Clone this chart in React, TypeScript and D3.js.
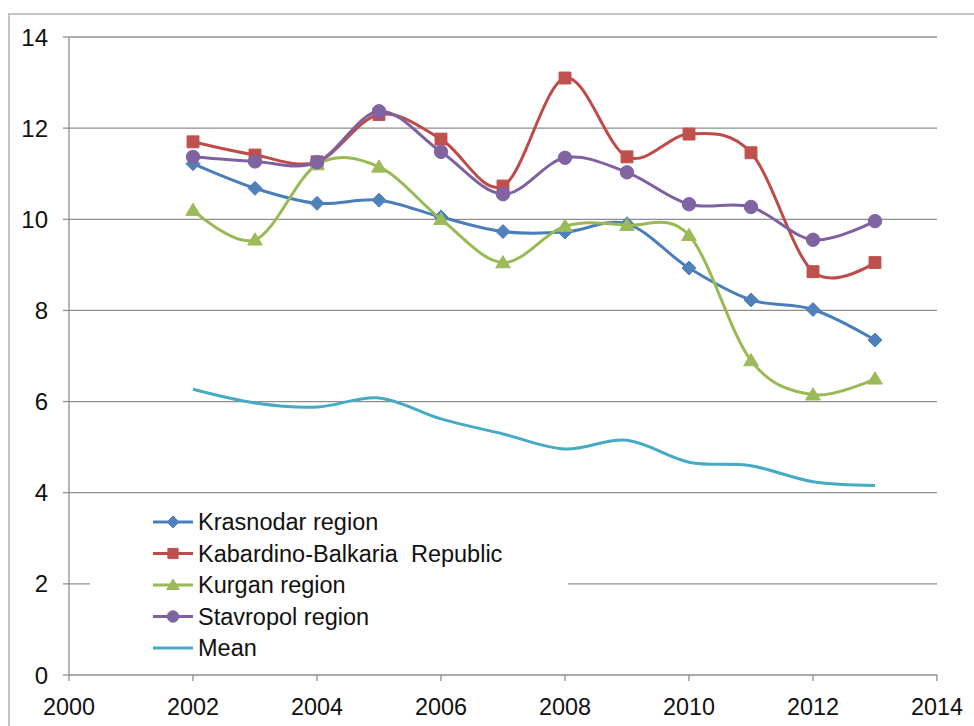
import React from "react";
import * as d3 from "d3";

const years = [2002, 2003, 2004, 2005, 2006, 2007, 2008, 2009, 2010, 2011, 2012, 2013];
const krasnodar = [11.22, 10.68, 10.35, 10.42, 10.05, 9.73, 9.72, 9.9, 8.93, 8.23, 8.02, 7.35];
const kabardino = [11.7, 11.41, 11.26, 12.3, 11.76, 10.73, 13.1, 11.37, 11.87, 11.46, 8.85, 9.05];
const kurgan = [10.2, 9.55, 11.2, 11.15, 10.0, 9.05, 9.85, 9.87, 9.65, 6.9, 6.15, 6.5];
const stavropol = [11.37, 11.27, 11.25, 12.37, 11.48, 10.55, 11.35, 11.03, 10.33, 10.27, 9.55, 9.96];
const mean = [6.27, 5.97, 5.88, 6.08, 5.62, 5.29, 4.96, 5.15, 4.67, 4.59, 4.24, 4.16];

const seriesNames = ["Krasnodar region", "Kabardino-Balkaria  Republic", "Kurgan region", "Stavropol region", "Mean"];
const seriesValues = [krasnodar, kabardino, kurgan, stavropol, mean];
const lineColors = ["#4A7EBB", "#BE4B48", "#98B954", "#7D60A0", "#46AAC5"];
const markerColors = ["#4F81BD", "#C0504D", "#9BBB59", "#8064A2", "#4BACC6"];
const markerTypes = ["diamond", "square", "triangle", "circle", "none"];

const xTicks = [2000, 2002, 2004, 2006, 2008, 2010, 2012, 2014];
const yTicks = [0, 2, 4, 6, 8, 10, 12, 14];

const W = 974;
const H = 726;
const FONT = "'Liberation Sans', Arial, sans-serif";

function markerPath(type: string, s: number): string {
  if (type === "diamond") return `M0,${-s}L${s},0L0,${s}L${-s},0Z`;
  if (type === "square") return `M${-s * 0.85},${-s * 0.85}H${s * 0.85}V${s * 0.85}H${-s * 0.85}Z`;
  if (type === "triangle") return `M0,${-s}L${s * 1.05},${s * 0.75}L${-s * 1.05},${s * 0.75}Z`;
  if (type === "circle") return d3.symbol().type(d3.symbolCircle).size(Math.PI * s * s * 0.92)() || "";
  return "";
}

function Marker({ type, x, y, color, s }: { type: string; x: number; y: number; color: string; s: number }) {
  if (type === "none") return null;
  return <path d={markerPath(type, s)} transform={`translate(${x},${y})`} fill={color} stroke={color} strokeWidth={1} />;
}

export default function App() {
  const x = d3.scaleLinear().domain([2000, 2014]).range([69, 937]);
  const y = d3.scaleLinear().domain([0, 14]).range([675, 37]);

  const line = d3
    .line<number>()
    .x((_, i) => x(years[i]))
    .y((d) => y(d))
    .curve(d3.curveCatmullRom.alpha(0));

  const legendX = 153;
  const legendY0 = 522;
  const legendStep = 31.5;

  return (
    <svg width={W} height={H} style={{ position: "absolute", left: 0, top: 0, background: "#fff" }}>
      <rect x={0} y={0} width={W} height={H} fill="#fff" />
      {/* outer frame */}
      <rect x={9} y={14} width={W + 20} height={H + 20} fill="none" stroke="#c4c4c4" strokeWidth={2} />

      {/* gridlines */}
      {yTicks.filter((t) => t > 0).map((t) => (
        <line key={t} x1={x(2000)} x2={x(2014)} y1={y(t)} y2={y(t)} stroke="#8e8e8e" strokeWidth={1.3} />
      ))}

      {/* axes */}
      <line x1={x(2000)} x2={x(2000)} y1={y(14)} y2={y(0)} stroke="#8e8e8e" strokeWidth={1.3} />
      <line x1={x(2000)} x2={x(2014)} y1={y(0)} y2={y(0)} stroke="#8e8e8e" strokeWidth={1.3} />
      {yTicks.map((t) => (
        <g key={t}>
          <line x1={x(2000) - 6} x2={x(2000)} y1={y(t)} y2={y(t)} stroke="#8e8e8e" strokeWidth={1.3} />
          <text x={48} y={y(t)} dy="0.36em" textAnchor="end" fontFamily={FONT} fontSize={24} fill="#111">
            {t}
          </text>
        </g>
      ))}
      {xTicks.map((t) => (
        <g key={t}>
          <line x1={x(t)} x2={x(t)} y1={y(0)} y2={y(0) + 6} stroke="#8e8e8e" strokeWidth={1.3} />
          <text x={x(t)} y={715} textAnchor="middle" fontFamily={FONT} fontSize={24} fill="#111" textLength={52} lengthAdjust="spacingAndGlyphs">
            {t}
          </text>
        </g>
      ))}

      {/* legend background */}
      <rect x={90} y={505} width={478} height={160} fill="#fff" />

      {/* series */}
      {seriesValues.map((vals, si) => (
        <g key={si}>
          <path d={line(vals) || ""} fill="none" stroke={lineColors[si]} strokeWidth={3} strokeLinejoin="round" />
          {vals.map((v, i) => (
            <Marker key={i} type={markerTypes[si]} x={x(years[i])} y={y(v)} color={markerColors[si]} s={7} />
          ))}
        </g>
      ))}

      {/* legend */}
      {seriesNames.map((name, si) => {
        const ly = legendY0 + si * legendStep;
        return (
          <g key={name}>
            <line x1={legendX} x2={legendX + 40} y1={ly} y2={ly} stroke={lineColors[si]} strokeWidth={3} />
            <Marker type={markerTypes[si]} x={legendX + 20} y={ly} color={markerColors[si]} s={6} />
            <text x={legendX + 45} y={ly} dy="0.36em" fontFamily={FONT} fontSize={23.5} fill="#111" style={{ whiteSpace: "pre" }}>
              {name}
            </text>
          </g>
        );
      })}
    </svg>
  );
}
